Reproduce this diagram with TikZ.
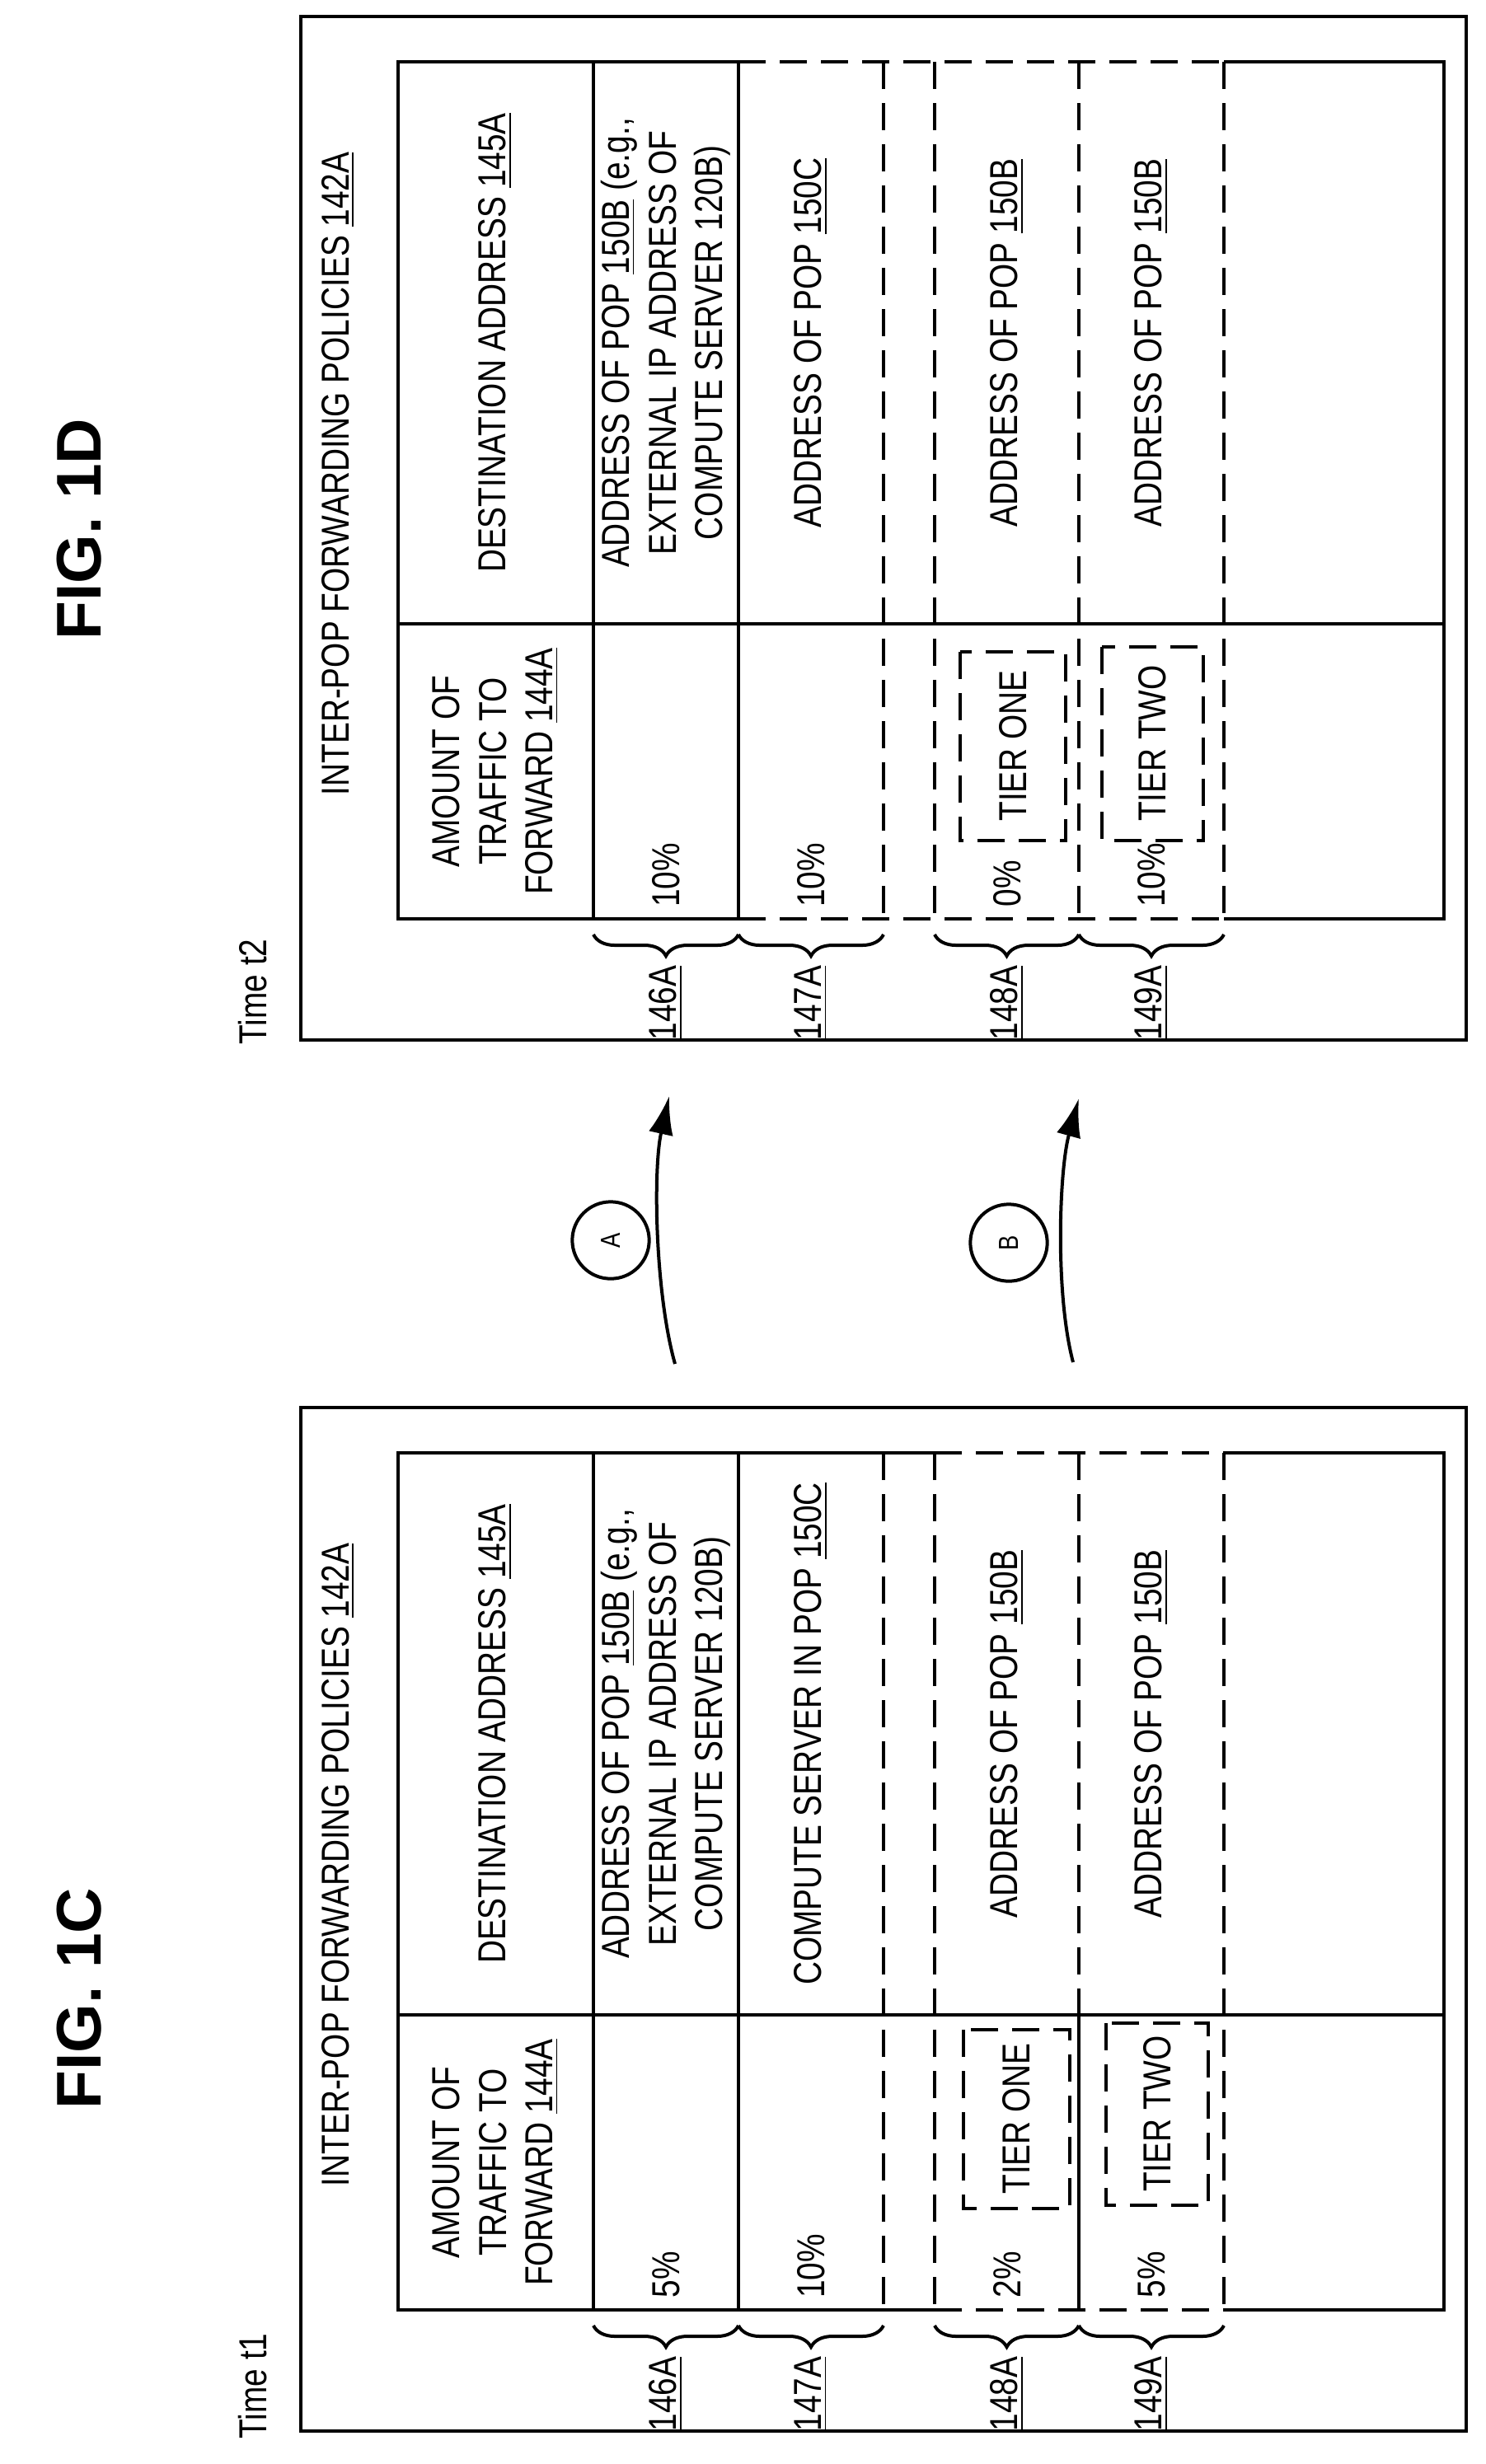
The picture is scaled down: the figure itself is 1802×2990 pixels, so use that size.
\documentclass[tikz,border=0pt]{standalone}
\usepackage{fontspec}
\setmainfont{Liberation Sans}
\newfontfamily\narrowfont{Liberation Sans}[FakeStretch=0.82]
\usetikzlibrary{decorations.pathreplacing,arrows.meta}
\begin{document}
\begin{tikzpicture}[x=0.3pt,y=0.3pt,
  solid line/.style={line width=1.2pt},
  dash line/.style={line width=1.2pt,dash pattern=on 10pt off 5pt},
  txt/.style={rotate=90,align=center,inner sep=0pt,font=\narrowfont\fontsize{14.2}{17}\selectfont},
  figlbl/.style={rotate=90,inner sep=0pt,font=\fontsize{23}{26}\selectfont\bfseries},
  brc/.style={line width=1.2pt,decorate,decoration={brace,amplitude=7.8pt,mirror}},
  arr/.style={line width=1.2pt,-{Latex[length=14pt,width=9pt]}},
  stepcirc/.style={circle,draw,line width=1.2pt,minimum size=28pt,inner sep=0pt,rotate=90,font=\narrowfont\fontsize{10}{11}\selectfont}]
\useasboundingbox (0,0) rectangle (1802,-2990);

% FIG labels
\node[figlbl] (figC) at (96,-2425) {FIG. 1C};
\node[figlbl] (figD) at (96,-642) {FIG. 1D};

% ================= FIG 1C =================
\begin{scope}
\draw[solid line] (365,-1708) rectangle (1779,-2950);
\node[txt,anchor=west] (timeC) at (307,-2960) {Time t1};
\node[txt] (titleC) at (410,-2263) {INTER-POP FORWARDING POLICIES \underline{142A}};
\draw[solid line] (1134,-1763) -- (483,-1763) -- (483,-2803) -- (1134,-2803);
\draw[solid line] (1485,-1763) -- (1752,-1763) -- (1752,-2803) -- (1485,-2803);
\draw[dash line] (1134,-1763) -- (1485,-1763);
\draw[dash line] (1134,-2803) -- (1485,-2803);
\draw[solid line] (483,-2445) -- (1752,-2445);
\draw[solid line] (720,-1763) -- (720,-2803);
\draw[solid line] (896,-1763) -- (896,-2803);
\draw[dash line] (1072,-1763) -- (1072,-2803);
\draw[dash line] (1134,-1763) -- (1134,-2803);
\draw[dash line] (1309,-1763) -- (1309,-2445);
\draw[solid line] (1309,-2445) -- (1309,-2803);
\draw[dash line] (1485,-1763) -- (1485,-2803);
\draw[dash line] (1169,-2463) rectangle (1298,-2680);
\draw[dash line] (1342,-2455) rectangle (1466,-2676);
\node[txt] (destC) at (601,-2104) {DESTINATION ADDRESS \underline{145A}};
\node[txt] (amtC) at (601,-2624) {AMOUNT OF\\TRAFFIC TO\\FORWARD \underline{144A}};
\node[txt] (d146C) at (808,-2104) {ADDRESS OF POP \underline{150B} (e.g.,\\EXTERNAL IP ADDRESS OF\\COMPUTE SERVER 120B)};
\node[txt] (d147C) at (984,-2104) {COMPUTE SERVER IN POP \underline{150C}};
\node[txt] (d148C) at (1222,-2104) {ADDRESS OF POP \underline{150B}};
\node[txt] (d149C) at (1397,-2104) {ADDRESS OF POP \underline{150B}};
\node[txt] (p146C) at (808,-2760) {5\%};
\node[txt] (p147C) at (984,-2750) {10\%};
\node[txt] (p148C) at (1222,-2760) {2\%};
\node[txt] (p149C) at (1397,-2760) {5\%};
\node[txt] (t1C) at (1233,-2571) {TIER ONE};
\node[txt] (t2C) at (1404,-2565) {TIER TWO};
\draw[brc] (720,-2822) -- (896,-2822);
\draw[brc] (896,-2822) -- (1072,-2822);
\draw[brc] (1134,-2822) -- (1309,-2822);
\draw[brc] (1309,-2822) -- (1485,-2822);
\node[txt] (b146C) at (808,-2905) {\underline{146A}};
\node[txt] (b147C) at (984,-2905) {\underline{147A}};
\node[txt] (b148C) at (1222,-2905) {\underline{148A}};
\node[txt] (b149C) at (1397,-2905) {\underline{149A}};
\end{scope}

% ================= FIG 1D =================
\begin{scope}[yshift=506.4pt]
\draw[solid line] (365,-1708) rectangle (1779,-2950);
\node[txt,anchor=west] (timeD) at (307,-2956) {Time t2};
\node[txt] (titleD) at (410,-2263) {INTER-POP FORWARDING POLICIES \underline{142A}};
\draw[solid line] (896,-1763) -- (483,-1763) -- (483,-2803) -- (896,-2803);
\draw[solid line] (1485,-1763) -- (1752,-1763) -- (1752,-2803) -- (1485,-2803);
\draw[dash line] (896,-1763) -- (1485,-1763);
\draw[dash line] (896,-2803) -- (1485,-2803);
\draw[solid line] (483,-2445) -- (1752,-2445);
\draw[solid line] (720,-1763) -- (720,-2803);
\draw[solid line] (896,-1763) -- (896,-2803);
\draw[dash line] (1072,-1763) -- (1072,-2803);
\draw[dash line] (1134,-1763) -- (1134,-2803);
\draw[dash line] (1309,-1763) -- (1309,-2803);
\draw[dash line] (1485,-1763) -- (1485,-2803);
\draw[dash line] (1165,-2479) rectangle (1293,-2708);
\draw[dash line] (1337,-2473) rectangle (1460,-2708);
\node[txt] (destD) at (601,-2104) {DESTINATION ADDRESS \underline{145A}};
\node[txt] (amtD) at (601,-2624) {AMOUNT OF\\TRAFFIC TO\\FORWARD \underline{144A}};
\node[txt] (d146D) at (808,-2104) {ADDRESS OF POP \underline{150B} (e.g.,\\EXTERNAL IP ADDRESS OF\\COMPUTE SERVER 120B)};
\node[txt] (d147D) at (984,-2104) {ADDRESS OF POP \underline{150C}};
\node[txt] (d148D) at (1222,-2104) {ADDRESS OF POP \underline{150B}};
\node[txt] (d149D) at (1397,-2104) {ADDRESS OF POP \underline{150B}};
\node[txt] (p146D) at (808,-2750) {10\%};
\node[txt] (p147D) at (984,-2750) {10\%};
\node[txt] (p148D) at (1222,-2760) {0\%};
\node[txt] (p149D) at (1397,-2750) {10\%};
\node[txt] (t1D) at (1229,-2593) {TIER ONE};
\node[txt] (t2D) at (1398,-2590) {TIER TWO};
\draw[brc] (720,-2822) -- (896,-2822);
\draw[brc] (896,-2822) -- (1072,-2822);
\draw[brc] (1134,-2822) -- (1309,-2822);
\draw[brc] (1309,-2822) -- (1485,-2822);
\node[txt] (b146D) at (808,-2905) {\underline{146A}};
\node[txt] (b147D) at (984,-2905) {\underline{147A}};
\node[txt] (b148D) at (1222,-2905) {\underline{148A}};
\node[txt] (b149D) at (1397,-2905) {\underline{149A}};
\end{scope}

% ================= transitions =================
\node[stepcirc] (cA) at (741,-1505) {A};
\node[stepcirc] (cB) at (1224,-1508) {B};
\coordinate (aS) at (819,-1655);
\coordinate (aE) at (812,-1330);
\coordinate (bS) at (1302,-1653);
\coordinate (bE) at (1309,-1333);
\draw[arr] (aS) .. controls (795,-1570) and (792,-1420) .. (aE);
\draw[arr] (bS) .. controls (1280,-1570) and (1285,-1420) .. (bE);
\end{tikzpicture}
\end{document}
